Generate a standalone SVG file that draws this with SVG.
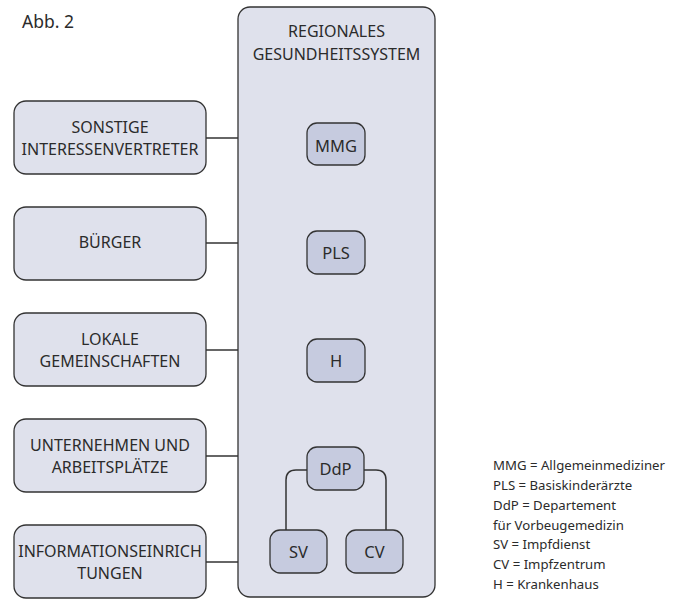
<svg xmlns="http://www.w3.org/2000/svg" width="681" height="600" viewBox="0 0 681 600">
<style>
text{font-family:"Noto Sans","Open Sans","DejaVu Sans",sans-serif;fill:#2b2b2b}
.big{fill:#dfe1ec;stroke:#333;stroke-width:1.3}
.small{fill:#c6cbdf;stroke:#333;stroke-width:1.3}
.lbl{font-size:16px;text-anchor:middle}
.sl{font-size:16.5px;text-anchor:middle}
.leg{font-size:13.2px}
.con{fill:none;stroke:#333;stroke-width:1.5}
</style>
<rect width="681" height="600" fill="#fff"/>
<text x="22" y="28" style="font-size:17.5px">Abb. 2</text>
<g id="connectors">
<line class="con" x1="206" y1="138" x2="238" y2="138"/>
<line class="con" x1="206" y1="243" x2="238" y2="243"/>
<line class="con" x1="206" y1="350" x2="238" y2="350"/>
<line class="con" x1="206" y1="456" x2="238" y2="456"/>
<line class="con" x1="206" y1="562" x2="238" y2="562"/>
</g>
<g id="regional">
<rect class="big" x="238" y="7" width="197" height="590" rx="12"/>
<text class="lbl" x="336.5" y="37">REGIONALES</text>
<text class="lbl" x="336.5" y="60">GESUNDHEITSSYSTEM</text>
</g>
<g id="sonstige">
<rect class="big" x="14" y="101" width="192" height="73" rx="12"/>
<text class="lbl" x="110" y="133">SONSTIGE</text>
<text class="lbl" x="110" y="155">INTERESSENVERTRETER</text>
</g>
<g id="buerger">
<rect class="big" x="14" y="207" width="192" height="73" rx="12"/>
<text class="lbl" x="110" y="248">BÜRGER</text>
</g>
<g id="lokale">
<rect class="big" x="14" y="313" width="192" height="73" rx="12"/>
<text class="lbl" x="110" y="345">LOKALE</text>
<text class="lbl" x="110" y="367">GEMEINSCHAFTEN</text>
</g>
<g id="unternehmen">
<rect class="big" x="14" y="419" width="192" height="73" rx="12"/>
<text class="lbl" x="110" y="451">UNTERNEHMEN UND</text>
<text class="lbl" x="110" y="473">ARBEITSPLÄTZE</text>
</g>
<g id="information">
<rect class="big" x="14" y="525" width="192" height="73" rx="12"/>
<text class="lbl" x="110" y="557">INFORMATIONSEINRICH</text>
<text class="lbl" x="110" y="579">TUNGEN</text>
</g>
<g id="connectors-inner">
<path class="con" d="M307 470 H296 Q286 470 286 480 V530"/>
<path class="con" d="M364 470 H376 Q386 470 386 480 V530"/>
</g>
<g id="mmg">
<rect class="small" x="307" y="123" width="58" height="42" rx="10"/>
<text class="sl" x="336" y="152">MMG</text>
</g>
<g id="pls">
<rect class="small" x="307" y="231" width="58" height="43" rx="10"/>
<text class="sl" x="336" y="259">PLS</text>
</g>
<g id="h">
<rect class="small" x="307" y="339" width="58" height="43" rx="10"/>
<text class="sl" x="336" y="367">H</text>
</g>
<g id="ddp">
<rect class="small" x="307" y="447" width="57" height="43" rx="10"/>
<text class="sl" x="335.5" y="475">DdP</text>
</g>
<g id="sv">
<rect class="small" x="270" y="530" width="57" height="43" rx="10"/>
<text class="sl" x="298.5" y="558">SV</text>
</g>
<g id="cv">
<rect class="small" x="346" y="530" width="57" height="43" rx="10"/>
<text class="sl" x="374.5" y="558">CV</text>
</g>
<g id="legend">
<text class="leg" x="493" y="470">MMG = Allgemeinmediziner</text>
<text class="leg" x="493" y="490">PLS = Basiskinderärzte</text>
<text class="leg" x="493" y="510">DdP = Departement</text>
<text class="leg" x="493" y="530">für Vorbeugemedizin</text>
<text class="leg" x="493" y="549">SV = Impfdienst</text>
<text class="leg" x="493" y="569">CV = Impfzentrum</text>
<text class="leg" x="493" y="589">H = Krankenhaus</text>
</g>
</svg>
